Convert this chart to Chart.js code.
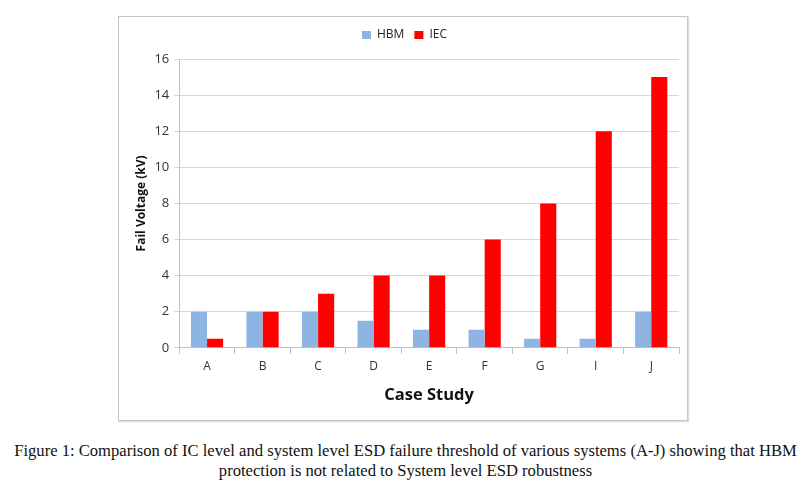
<!DOCTYPE html>
<html>
<head>
<meta charset="utf-8">
<script src="https://cdn.jsdelivr.net/npm/chart.js@4"></script>
<style>
  body { margin: 0; background: #fff; width: 803px; height: 488px; position: relative; }
  #box { position: absolute; left: 118px; top: 16px; width: 568px; height: 403px;
         border: 1px solid #c6c6c6; box-shadow: 1px 1px 1px #ddd; }
  #caption { position: absolute; left: 4px; top: 441px; width: 803px; text-align: center;
             font-family: "Liberation Serif", "Times New Roman", serif; font-size: 16.6px;
             line-height: 20px; color: #111; }
</style>
</head>
<body>
<div id="box"><canvas id="esdChart"></canvas></div>
<div id="caption">Figure 1: Comparison of IC level and system level ESD failure threshold of various systems (A-J) showing that HBM<br>protection is not related to System level ESD robustness</div>
<script>
const labels = ['A', 'B', 'C', 'D', 'E', 'F', 'G', 'I', 'J'];
const hbm = [2, 2, 2, 1.5, 1, 1, 0.5, 0.5, 2];
const iec = [0.5, 2, 3, 4, 4, 6, 8, 12, 15];

const font = 'Open Sans, Liberation Sans, sans-serif';

const data = {
  labels: labels,
  datasets: [{
    label: 'HBM',
    data: hbm,
    backgroundColor: 'rgb(142, 180, 227)',
    categoryPercentage: 0.58,
    barPercentage: 1.0
  }, {
    label: 'IEC',
    data: iec,
    backgroundColor: 'rgb(255, 0, 0)',
    categoryPercentage: 0.58,
    barPercentage: 1.0
  }]
};

// extra room under the legend
const legendGap = {
  id: 'legendGap',
  beforeInit(chart) {
    const fit = chart.legend.fit;
    chart.legend.fit = function () {
      fit.bind(chart.legend)();
      this.height += 8;
    };
  }
};

let esdChart = new Chart('esdChart', {
  type: 'bar',
  data: data,
  plugins: [legendGap],
  options: {
    responsive: true,
    maintainAspectRatio: false,
    animation: false,
    layout: { padding: { left: 11, right: 8, top: 2, bottom: 11 } },
    plugins: {
      tooltip: { enabled: false },
      legend: {
        display: true,
        position: 'top',
        labels: {
          color: '#222',
          boxWidth: 9,
          boxHeight: 8,
          padding: 10,
          font: { family: font, size: 12 }
        }
      }
    },
    scales: {
      x: {
        grid: { drawOnChartArea: false, drawTicks: true, tickLength: 6, color: '#bfbfbf' },
        border: { color: '#bfbfbf' },
        ticks: { color: '#333', padding: 6, font: { family: font, size: 12 } },
        title: {
          display: true,
          text: 'Case Study',
          color: '#111',
          padding: { top: 5 },
          font: { family: font, size: 16.5, weight: 'bold' }
        }
      },
      y: {
        min: 0,
        max: 16,
        ticks: { stepSize: 2, color: '#333', padding: 5, font: { family: font, size: 13 } },
        grid: { color: '#d9d9d9', tickLength: 5 },
        border: { color: '#bfbfbf' },
        title: {
          display: true,
          text: 'Fail Voltage (kV)',
          color: '#111',
          padding: { bottom: 1 },
          font: { family: font, size: 12, weight: 'bold' }
        }
      }
    }
  }
});
</script>
</body>
</html>
